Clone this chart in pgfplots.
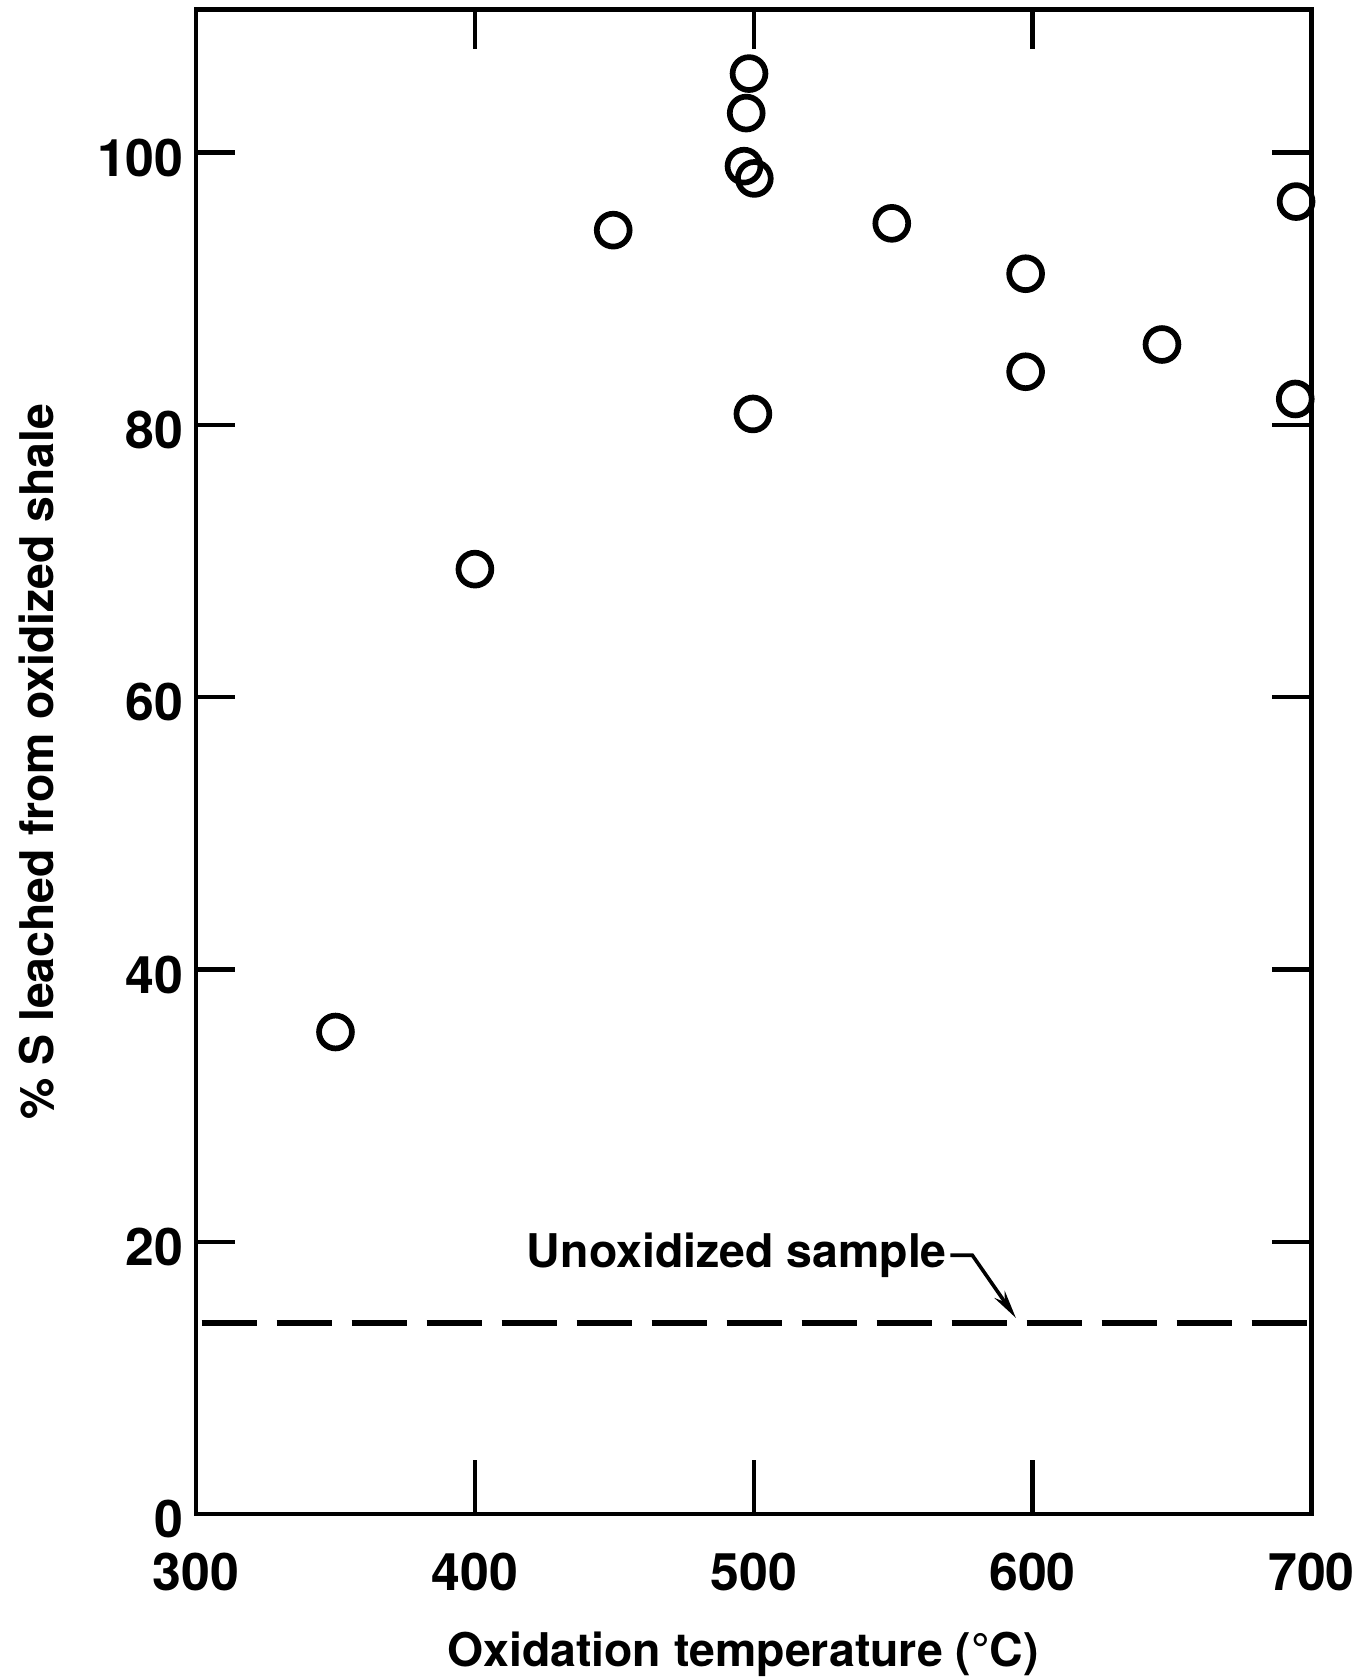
\documentclass[border=0pt]{standalone}
\usepackage{fontspec}
\setmainfont{TeX Gyre Heros}
\usepackage{pgfplots}
\pgfplotsset{compat=1.18}
\usetikzlibrary{arrows.meta}

\begin{document}
\begin{tikzpicture}
\begin{axis}[
    scale only axis,
    width=312.3pt, height=421.2pt,
    xmin=300, xmax=700,
    ymin=0, ymax=110.5,
    clip=false,
    axis line style={line width=1.2pt},
    xtick={300,400,...,700},
    ytick={0,20,...,100},
    tick align=inside,
    major tick length=11pt,
    tick style={line width=1.2pt, black},
    /pgf/number format/assume math mode=true,
    ticklabel style={font=\fontsize{14.5}{17}\selectfont\bfseries},
    xticklabel style={anchor=base, yshift=-21.3pt},
    yticklabel style={yshift=-1.5pt},
    label style={font=\fontsize{13}{15}\selectfont\bfseries},
    xlabel={Oxidation temperature (°C)},
    xlabel style={at={([xshift=-3pt,yshift=-42.6pt]axis description cs:0.5,0)}, anchor=base},
    ylabel={\% S leached from oxidized shale},
    ylabel style={at={([xshift=-39.9pt]axis description cs:0,0.5)}, anchor=base},
]
\coordinate (bl) at (rel axis cs:0,0);
\coordinate (tr) at (rel axis cs:1,1);

% longer ticks on the bottom edge
\draw[line width=1.2pt] (axis cs:400,0) -- ++(0pt,15pt);
\draw[line width=1.2pt] (axis cs:500,0) -- ++(0pt,15pt);
\draw[line width=1.2pt] (axis cs:600,0) -- ++(0pt,15pt);

% unoxidized sample level
\addplot[black, line width=1.6pt, dash pattern=on 15.5pt off 5.5pt]
    coordinates {(302,14.0) (700,14.0)};

% measured points
\addplot[only marks, mark=o, mark size=4.6pt, black,
         mark options={line width=1.6pt}]
    coordinates {
        (350,35.4)
        (400,69.4)
        (449.6,94.3)
        (498.3,105.8)
        (497.3,102.9)
        (496.5,99.0)
        (500.2,98.1)
        (499.7,80.8)
        (549.5,94.8)
        (597.5,91.1)
        (597.5,83.9)
        (646.4,85.9)
        (694.5,96.4)
        (694.2,81.9)
    };

\node[anchor=base west, font=\fontsize{13}{15}\selectfont\bfseries, inner sep=0pt]
    at (axis cs:418.4,18.1) {Unoxidized sample};
\draw[line width=1pt, -{Stealth[length=8pt,width=3.5pt]}]
    (axis cs:570.5,19.0) -- (axis cs:578.4,19.0) -- (axis cs:594,14.4);
\end{axis}
\pgfresetboundingbox
\path ([shift={(-54.9pt,-46.5pt)}]bl) rectangle ([shift={(16.8pt,2.7pt)}]tr);
\end{tikzpicture}
\end{document}
